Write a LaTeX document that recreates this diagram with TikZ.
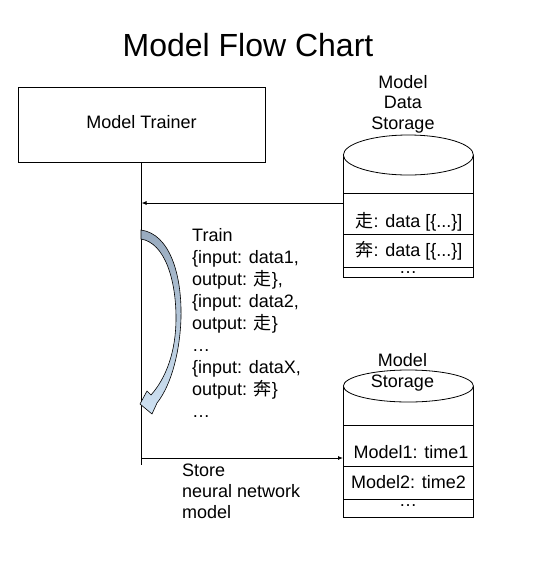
\documentclass[tikz,border=0pt]{standalone}
\usepackage{fontspec}
\setmainfont{Liberation Sans}
\newfontfamily\cjk{Noto Sans CJK SC}
\usetikzlibrary{positioning, arrows.meta, shapes.geometric}
\definecolor{arrowtop}{HTML}{98AABE}
\definecolor{arrowbottom}{HTML}{CFE2F3}

\begin{document}
\begin{tikzpicture}[x=1pt, y=-1pt,
    every node/.style={inner sep=0pt, font=\fontsize{18}{22}\selectfont},
    box/.style={draw, line width=0.8pt},
    dbtop/.style={draw, ellipse, fill=white, line width=0.8pt, minimum width=130pt},
    conn/.style={line width=0.8pt, -{Latex[length=5pt, width=4pt]}},
    rowline/.style={line width=0.8pt}]
    \useasboundingbox (0,0) rectangle (535,574);
    % title and trainer box
    \node[anchor=base, font=\fontsize{32}{38}\selectfont] (title) at (248,56) {Model Flow Chart};
    \node[box, minimum width=247pt, minimum height=75pt, text height=13pt, text depth=6pt] (trainer) at (141.5,124.5) {Model Trainer};
    \coordinate (trainend) at (141.5,465);

    % data storage cylinder
    \node[box, anchor=north west, minimum width=130pt, minimum height=122pt] (datadb) at (343,155) {};
    \node[dbtop, minimum height=40pt] (datatop) at (datadb.north) {};
    \draw[rowline] (343,193) -- (473,193);
    \draw[rowline] (343,234) -- (473,234);
    \draw[rowline] (343,267) -- (473,267);
    \node[anchor=base] (datarow1) at (409,227) {{\cjk 走}: data [\{...\}]};
    \node[anchor=base] (datarow2) at (409,256) {{\cjk 奔}: data [\{...\}]};
    \node[anchor=base] (datamore) at (408,273) {…};
    \node[anchor=north, align=center, font=\fontsize{18}{20.5}\selectfont] (datalbl) at (403,75) {Model\\Data\\Storage};

    % model storage cylinder
    \node[box, anchor=north west, minimum width=130pt, minimum height=131pt] (modeldb) at (343,386) {};
    \node[dbtop, minimum height=32pt] (modeltop) at (modeldb.north) {};
    \draw[rowline] (343,425) -- (473,425);
    \draw[rowline] (343,466) -- (473,466);
    \draw[rowline] (343,499) -- (473,499);
    \node[anchor=base] (modelrow1) at (411,458) {Model1: time1};
    \node[anchor=base] (modelrow2) at (408.5,488) {Model2: time2};
    \node[anchor=base] (modelmore) at (408,506) {…};
    \node[anchor=north, align=center, font=\fontsize{18}{21}\selectfont] (modellbl) at (402.5,353) {Model\\Storage};

    % connectors
    \coordinate (dataout) at (343,203);
    \coordinate (storein) at (343,458);
    \draw[box] (trainer.south) -- (trainend);
    \draw[conn] (dataout) -- (trainer.south |- dataout);
    \draw[conn] (trainer.south |- storein) -- (storein);

    % curved train arrow
    \draw[line width=0.6pt, top color=arrowtop, bottom color=arrowbottom]
        (141,230) .. controls (170,234) and (182,275) .. (181,318)
        .. controls (180,350) and (172,384) .. (157,403)
        -- (152,414) -- (140,404) -- (147,391) -- (151,395)
        .. controls (166,378) and (176,352) .. (176,318)
        .. controls (176,280) and (165,243) .. (141,239) -- cycle;
    \node[anchor=north west, align=left] (trainlbl) at (192,228)
        {Train\\\{input: data1,\\output: {\cjk 走}\},\\\{input: data2,\\output: {\cjk 走}\}\\…\\\{input: dataX,\\output: {\cjk 奔}\}\\…};
    \node[anchor=north west, align=left, font=\fontsize{18}{21}\selectfont] (storelbl) at (182,464) {Store\\neural network\\model};
\end{tikzpicture}
\end{document}
